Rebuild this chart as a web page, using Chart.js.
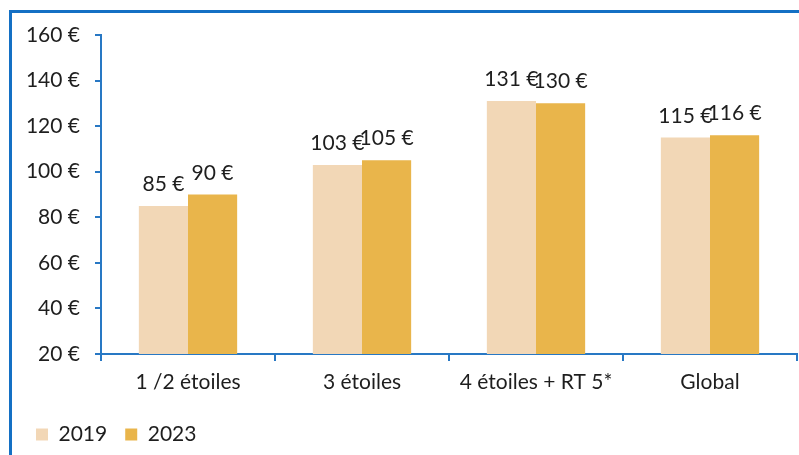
<!DOCTYPE html>
<html>
<head>
<meta charset="utf-8">
<script src="https://cdn.jsdelivr.net/npm/chart.js@4/dist/chart.umd.min.js"></script>
<style>
  html, body { margin: 0; padding: 0; background: #fff; }
  #wrap { position: relative; width: 799px; height: 455px; overflow: hidden; }
  #cadre { position: absolute; left: 9px; top: 10px; width: 800px; height: 460px;
           border-left: 3px solid #1470c4; border-top: 3px solid #1470c4; }
  #grafica { position: absolute; left: 0; top: 0; }
</style>
</head>
<body>
<div id="wrap">
  <div id="cadre"></div>
  <canvas id="grafica" width="799" height="455"></canvas>
</div>
<script>
const categorias = ["1 /2 étoiles", "3 étoiles", "4 étoiles + RT 5*", "Global"];
const valores2019 = [85, 103, 131, 115];
const valores2023 = [90, 105, 130, 116];
const ticksY = [20, 40, 60, 80, 100, 120, 140, 160];

const azul = "#2878c4";
const texto = "#1e1e1e";
const fuente = "Lato, 'Open Sans', sans-serif";

// etiquetas encima de cada barra
const etiquetas = {
    id: "etiquetas",
    afterDatasetsDraw(chart) {
        const ctx = chart.ctx;
        ctx.save();
        ctx.font = "21px " + fuente;
        ctx.fillStyle = texto;
        ctx.textAlign = "center";
        ctx.textBaseline = "alphabetic";
        chart.data.datasets.forEach((ds, i) => {
            chart.getDatasetMeta(i).data.forEach((bar, j) => {
                ctx.fillText(ds.data[j] + " €", bar.x, bar.y - 15);
            });
        });
        ctx.restore();
    }
};

let chart = new Chart(document.getElementById("grafica"), {
    type: "bar",
    data: {
        labels: categorias,
        datasets: [{
            label: "2019",
            data: valores2019,
            backgroundColor: "#f2d7b6"
        }, {
            label: "2023",
            data: valores2023,
            backgroundColor: "#e9b54b"
        }]
    },
    options: {
        responsive: false,
        animation: false,
        layout: { padding: { top: 35, left: 18, right: 2, bottom: 0 } },
        datasets: { bar: { barPercentage: 1, categoryPercentage: 0.565 } },
        plugins: {
            legend: {
                position: "bottom",
                align: "start",
                labels: {
                    boxWidth: 12,
                    boxHeight: 12,
                    padding: 18,
                    color: texto,
                    font: { family: fuente, size: 21 }
                }
            },
            tooltip: { enabled: false }
        },
        scales: {
            x: {
                grid: { drawOnChartArea: false, color: azul, lineWidth: 2, tickLength: 7 },
                border: { color: azul, width: 2 },
                ticks: { color: texto, padding: 9, font: { family: fuente, size: 21 } },
                afterFit: s => { s.height = 52; }
            },
            y: {
                min: 20,
                max: 160,
                afterBuildTicks: s => { s.ticks = ticksY.map(v => ({ value: v })); },
                grid: { drawOnChartArea: false, color: azul, lineWidth: 2, tickLength: 6 },
                border: { color: azul, width: 2 },
                ticks: {
                    color: texto,
                    padding: 15,
                    font: { family: fuente, size: 21 },
                    callback: v => v + " €"
                },
                afterFit: s => { s.width = 83; }
            }
        }
    },
    plugins: [etiquetas]
});
</script>
</body>
</html>
